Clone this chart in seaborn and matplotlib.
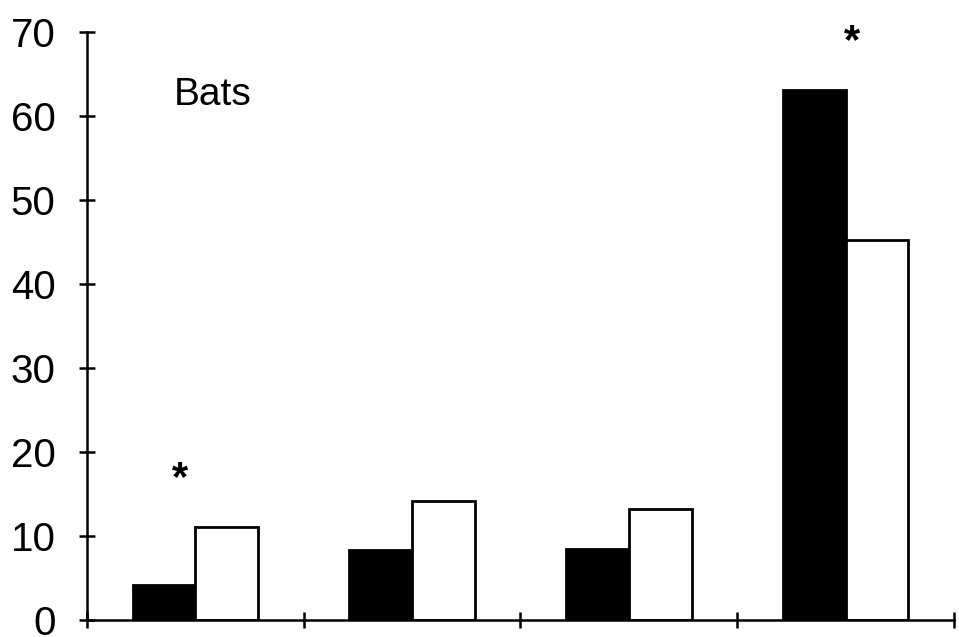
import matplotlib
matplotlib.use("Agg")
import matplotlib.pyplot as plt
import seaborn as sns
import pandas as pd

categories = ["1", "2", "3", "4"]
series_names = ["filled", "open"]
filled_values = [4.2, 8.3, 8.4, 63.1]
open_values = [11.1, 14.2, 13.2, 45.2]
y_ticks = [0, 10, 20, 30, 40, 50, 60, 70]

df = pd.DataFrame({
    "group": categories * 2,
    "series": [series_names[0]] * 4 + [series_names[1]] * 4,
    "value": filled_values + open_values,
})

sns.set_style("white")
plt.rcParams["font.family"] = ["Liberation Sans", "DejaVu Sans"]
plt.rcParams["text.color"] = "black"

fig = plt.figure(figsize=(9.59, 6.37), dpi=100)
ax = fig.add_axes([0.0907, 0.0267, 0.9041, 0.9231])

sns.barplot(
    data=df, x="group", y="value", hue="series", hue_order=series_names,
    order=categories, palette=["black", "white"], edgecolor="black",
    linewidth=2.0, width=0.58, gap=0, legend=False, ax=ax, zorder=3,
)

ax.set_xlim(-0.5, 3.5)
ax.set_ylim(0, 70)
ax.set_yticks(y_ticks)
ax.set_yticklabels([str(t) for t in y_ticks])
ax.set_xticks([-0.5, 0.5, 1.5, 2.5, 3.5])
ax.set_xticklabels([])
ax.set_xlabel("")
ax.set_ylabel("")

for side in ["top", "right"]:
    ax.spines[side].set_visible(False)
for side in ["left", "bottom"]:
    ax.spines[side].set_linewidth(1.8)
    ax.spines[side].set_color("black")
    ax.spines[side].set_zorder(4)

ax.tick_params(axis="y", left=True, direction="inout", length=11.5, width=1.8,
               labelsize=29, pad=17, colors="black", labelcolor="black")
ax.tick_params(axis="x", bottom=True, direction="inout", length=11, width=1.8,
               colors="black")

ax.text(-0.10, 62.5, "Bats", fontsize=28, color="black", ha="left", va="center")
ax.text(-0.07, 16.8, "*", fontsize=30, fontweight="bold", color="black",
        ha="center", va="center", clip_on=False)
ax.text(3.03, 68.8, "*", fontsize=30, fontweight="bold", color="black",
        ha="center", va="center", clip_on=False)

fig.savefig("out.png", dpi=100)
